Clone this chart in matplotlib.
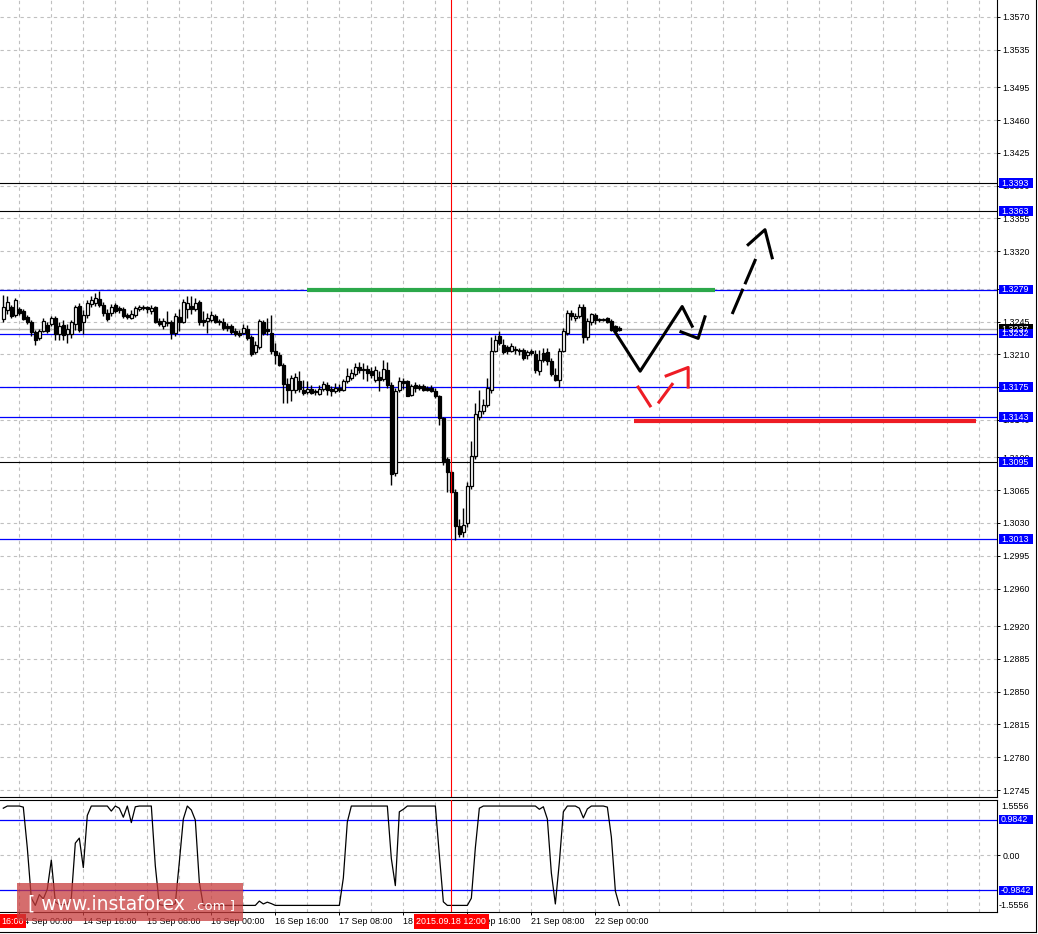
import matplotlib
matplotlib.use("Agg")
import matplotlib.pyplot as plt
from matplotlib.patches import Rectangle
from matplotlib.lines import Line2D
from matplotlib.transforms import blended_transform_factory
import numpy as np

# ---- H1 candles, 13 Sep 20:00 .. 22 Sep 06:00 ----
opens = [
    1.3248, 1.3257, 1.3260, 1.3252, 1.3258, 1.3256, 1.3250, 1.3245, 1.3234, 1.3227,
    1.3235, 1.3241, 1.3242, 1.3249, 1.3232, 1.3241, 1.3232, 1.3232, 1.3242, 1.3262,
    1.3244, 1.3252, 1.3264, 1.3265, 1.3269, 1.3263, 1.3254, 1.3254, 1.3263, 1.3259,
    1.3258, 1.3252, 1.3249, 1.3252, 1.3258, 1.3260, 1.3260, 1.3256, 1.3260, 1.3246,
    1.3240, 1.3245, 1.3245, 1.3233, 1.3250, 1.3245, 1.3258, 1.3262, 1.3258, 1.3266,
    1.3247, 1.3246, 1.3247, 1.3251, 1.3246, 1.3245, 1.3240, 1.3240, 1.3235, 1.3233,
    1.3233, 1.3237, 1.3229, 1.3212, 1.3218, 1.3245, 1.3237, 1.3233, 1.3214, 1.3209,
    1.3199, 1.3178, 1.3172, 1.3172, 1.3181, 1.3172, 1.3170, 1.3173, 1.3171, 1.3168,
    1.3173, 1.3177, 1.3173, 1.3171, 1.3174, 1.3172, 1.3181, 1.3185, 1.3189, 1.3196,
    1.3194, 1.3194, 1.3192, 1.3183, 1.3186, 1.3184, 1.3193, 1.3177, 1.3083, 1.3172,
    1.3181, 1.3181, 1.3167, 1.3177, 1.3176, 1.3176, 1.3174, 1.3174, 1.3171, 1.3165,
    1.3142, 1.3098, 1.3084, 1.3063, 1.3027, 1.3020, 1.3030, 1.3069, 1.3101, 1.3143,
    1.3149, 1.3156, 1.3172, 1.3214, 1.3230, 1.3220, 1.3218, 1.3214, 1.3216, 1.3215,
    1.3215, 1.3209, 1.3214, 1.3210, 1.3192, 1.3211, 1.3212, 1.3203, 1.3188, 1.3183,
    1.3214, 1.3233, 1.3254, 1.3249, 1.3251, 1.3261, 1.3229, 1.3244, 1.3252, 1.3248,
    1.3247, 1.3249, 1.3246, 1.3240, 1.3238,
]
highs = [
    1.3273, 1.3272, 1.3263, 1.3270, 1.3260, 1.3258, 1.3252, 1.3247, 1.3236, 1.3237,
    1.3249, 1.3244, 1.3251, 1.3251, 1.3245, 1.3247, 1.3242, 1.3247, 1.3263, 1.3265,
    1.3257, 1.3268, 1.3272, 1.3275, 1.3278, 1.3266, 1.3258, 1.3264, 1.3265, 1.3262,
    1.3260, 1.3254, 1.3257, 1.3262, 1.3263, 1.3263, 1.3262, 1.3263, 1.3262, 1.3249,
    1.3249, 1.3256, 1.3247, 1.3254, 1.3258, 1.3269, 1.3272, 1.3272, 1.3270, 1.3268,
    1.3256, 1.3254, 1.3256, 1.3253, 1.3248, 1.3249, 1.3243, 1.3242, 1.3238, 1.3236,
    1.3242, 1.3241, 1.3231, 1.3224, 1.3248, 1.3247, 1.3249, 1.3252, 1.3222, 1.3212,
    1.3201, 1.3185, 1.3188, 1.3190, 1.3192, 1.3183, 1.3181, 1.3177, 1.3173, 1.3177,
    1.3182, 1.3180, 1.3176, 1.3179, 1.3178, 1.3184, 1.3195, 1.3194, 1.3201, 1.3202,
    1.3201, 1.3199, 1.3196, 1.3197, 1.3192, 1.3204, 1.3202, 1.3180, 1.3174, 1.3186,
    1.3185, 1.3183, 1.3178, 1.3180, 1.3178, 1.3178, 1.3176, 1.3177, 1.3174, 1.3167,
    1.3143, 1.3100, 1.3087, 1.3066, 1.3034, 1.3046, 1.3074, 1.3117, 1.3158, 1.3172,
    1.3162, 1.3185, 1.3228, 1.3231, 1.3235, 1.3226, 1.3220, 1.3222, 1.3219, 1.3217,
    1.3217, 1.3215, 1.3216, 1.3215, 1.3215, 1.3217, 1.3217, 1.3206, 1.3195, 1.3217,
    1.3238, 1.3257, 1.3257, 1.3254, 1.3264, 1.3264, 1.3249, 1.3254, 1.3254, 1.3249,
    1.3249, 1.3250, 1.3248, 1.3241, 1.3240,
]
lows = [
    1.3245, 1.3253, 1.3249, 1.3250, 1.3252, 1.3247, 1.3242, 1.3230, 1.3220, 1.3225,
    1.3234, 1.3233, 1.3240, 1.3225, 1.3225, 1.3225, 1.3222, 1.3227, 1.3236, 1.3234,
    1.3232, 1.3249, 1.3261, 1.3262, 1.3260, 1.3251, 1.3246, 1.3251, 1.3254, 1.3254,
    1.3249, 1.3248, 1.3248, 1.3250, 1.3256, 1.3257, 1.3254, 1.3253, 1.3243, 1.3240,
    1.3237, 1.3240, 1.3226, 1.3230, 1.3235, 1.3243, 1.3249, 1.3253, 1.3256, 1.3241,
    1.3240, 1.3233, 1.3245, 1.3243, 1.3241, 1.3236, 1.3235, 1.3232, 1.3230, 1.3229,
    1.3232, 1.3225, 1.3208, 1.3210, 1.3216, 1.3231, 1.3231, 1.3210, 1.3200, 1.3197,
    1.3158, 1.3158, 1.3160, 1.3169, 1.3170, 1.3167, 1.3168, 1.3168, 1.3167, 1.3167,
    1.3171, 1.3167, 1.3166, 1.3169, 1.3170, 1.3171, 1.3179, 1.3183, 1.3187, 1.3190,
    1.3184, 1.3181, 1.3185, 1.3180, 1.3171, 1.3182, 1.3174, 1.3071, 1.3080, 1.3170,
    1.3173, 1.3165, 1.3165, 1.3170, 1.3172, 1.3171, 1.3171, 1.3170, 1.3163, 1.3135,
    1.3092, 1.3063, 1.3062, 1.3012, 1.3015, 1.3015, 1.3026, 1.3066, 1.3098, 1.3140,
    1.3146, 1.3154, 1.3169, 1.3212, 1.3220, 1.3210, 1.3210, 1.3212, 1.3210, 1.3209,
    1.3204, 1.3205, 1.3209, 1.3190, 1.3188, 1.3202, 1.3199, 1.3187, 1.3182, 1.3175,
    1.3212, 1.3231, 1.3247, 1.3246, 1.3249, 1.3222, 1.3225, 1.3241, 1.3242, 1.3245,
    1.3246, 1.3243, 1.3235, 1.3234, 1.3235,
]
closes = [
    1.3261, 1.3266, 1.3251, 1.3268, 1.3254, 1.3248, 1.3244, 1.3234, 1.3225, 1.3235,
    1.3246, 1.3235, 1.3249, 1.3232, 1.3240, 1.3231, 1.3237, 1.3244, 1.3261, 1.3236,
    1.3252, 1.3265, 1.3268, 1.3270, 1.3263, 1.3254, 1.3248, 1.3261, 1.3256, 1.3257,
    1.3251, 1.3250, 1.3253, 1.3259, 1.3260, 1.3259, 1.3258, 1.3259, 1.3245, 1.3242,
    1.3246, 1.3243, 1.3233, 1.3251, 1.3244, 1.3266, 1.3265, 1.3258, 1.3265, 1.3244,
    1.3245, 1.3249, 1.3252, 1.3244, 1.3244, 1.3238, 1.3238, 1.3234, 1.3232, 1.3231,
    1.3238, 1.3227, 1.3210, 1.3220, 1.3246, 1.3233, 1.3235, 1.3214, 1.3209, 1.3199,
    1.3178, 1.3172, 1.3185, 1.3186, 1.3173, 1.3169, 1.3173, 1.3169, 1.3170, 1.3173,
    1.3178, 1.3172, 1.3171, 1.3174, 1.3172, 1.3181, 1.3187, 1.3190, 1.3196, 1.3193,
    1.3193, 1.3190, 1.3188, 1.3193, 1.3183, 1.3194, 1.3177, 1.3082, 1.3171, 1.3182,
    1.3179, 1.3166, 1.3176, 1.3174, 1.3174, 1.3172, 1.3172, 1.3171, 1.3165, 1.3142,
    1.3095, 1.3084, 1.3063, 1.3027, 1.3018, 1.3028, 1.3069, 1.3101, 1.3146, 1.3149,
    1.3156, 1.3174, 1.3214, 1.3225, 1.3222, 1.3212, 1.3214, 1.3219, 1.3215, 1.3214,
    1.3206, 1.3213, 1.3211, 1.3193, 1.3204, 1.3204, 1.3203, 1.3189, 1.3183, 1.3214,
    1.3235, 1.3254, 1.3251, 1.3251, 1.3260, 1.3228, 1.3246, 1.3253, 1.3247, 1.3247,
    1.3248, 1.3244, 1.3236, 1.3235, 1.3236,
]

# oscillator in the lower window, one value per bar
osc = [
    1.30, 1.36, 1.36, 1.36, 1.36, 1.33, 0.20, -1.20, -1.40, -1.10,
    -1.22, -0.95, -0.14, -1.30, -1.38, -1.38, -1.36, -1.20, 0.33, 0.47,
    -0.35, 1.10, 1.36, 1.36, 1.36, 1.36, 1.36, 1.22, 1.36, 1.30,
    1.05, 1.36, 0.90, 1.34, 1.36, 1.36, 1.36, 1.36, -0.30, -1.38,
    -1.40, -1.40, -1.40, -1.35, -0.20, 1.00, 1.36, 1.25, 0.97, -0.75,
    -1.40, -1.40, -1.40, -1.40, -1.40, -1.40, -1.40, -1.40, -1.40, -1.40,
    -1.40, -1.40, -1.40, -1.40, -1.28, -1.36, -1.31, -1.35, -1.40, -1.40,
    -1.40, -1.40, -1.40, -1.40, -1.40, -1.40, -1.40, -1.40, -1.40, -1.40,
    -1.40, -1.40, -1.40, -1.40, -1.40, -0.64, 0.92, 1.36, 1.36, 1.36,
    1.36, 1.36, 1.36, 1.36, 1.36, 1.36, 1.36, -0.10, -0.85, 1.20,
    1.27, 1.36, 1.36, 1.36, 1.36, 1.36, 1.36, 1.36, 1.36, 0.00,
    -1.30, -1.40, -1.40, -1.40, -1.40, -1.40, -1.40, -1.20, 0.20, 1.30,
    1.36, 1.36, 1.36, 1.36, 1.36, 1.36, 1.36, 1.36, 1.36, 1.36,
    1.36, 1.36, 1.36, 1.36, 1.27, 1.34, 1.00, -0.50, -1.36, -0.20,
    1.20, 1.36, 1.36, 1.36, 1.30, 1.03, 1.28, 1.36, 1.36, 1.36,
    1.36, 1.33, 0.50, -1.00, -1.40,
]

price_ticks = [1.3570, 1.3535, 1.3495, 1.3460, 1.3425, 1.3390, 1.3355, 1.3320,
               1.3280, 1.3245, 1.3210, 1.3175, 1.3140, 1.3100, 1.3065, 1.3030,
               1.2995, 1.2960, 1.2920, 1.2885, 1.2850, 1.2815, 1.2780, 1.2745]
time_ticks = [4, 20, 36, 52, 68, 84, 100, 116, 132, 148]
time_labels = ["14 Sep 00:00", "14 Sep 16:00", "15 Sep 08:00", "16 Sep 00:00",
               "16 Sep 16:00", "17 Sep 08:00", "18 Sep 00:00", "18 Sep 16:00",
               "21 Sep 08:00", "22 Sep 00:00"]

blue_levels = [1.3279, 1.3232, 1.3175, 1.3143, 1.3013]
black_levels = [1.3393, 1.3363, 1.3095]
bid_price = 1.3237
osc_levels = [0.9842, -0.9842]

# hand-drawn forecast objects (bar index, price)
green_x, green_y = [75.9, 177.9], [1.3279, 1.3279]
red_lvl_x, red_lvl_y = [157.7, 243.2], [1.3139, 1.3139]
fc_a_x, fc_a_y = [152.9, 159.2, 169.7, 172.2], [1.3234, 1.3192, 1.3261, 1.3240]
fc_b_x, fc_b_y = [169.4, 173.7, 175.4], [1.3234, 1.3227, 1.3250]
fc_c_x, fc_c_y = [182.2, 188.4], [1.3253, 1.3315]
fc_d_x, fc_d_y = [186.2, 190.4, 192.2], [1.3327, 1.3343, 1.3313]
alt_a_x, alt_a_y = [158.7, 161.7], [1.3175, 1.3155]
alt_b_x, alt_b_y = [163.9, 167.2], [1.3159, 1.3178]
alt_c_x, alt_c_y = [165.7, 171.2, 171.2], [1.3187, 1.3196, 1.3175]
cross_bar = 112

plt.rcParams["font.family"] = ["Liberation Sans", "DejaVu Sans"]
FS = 6.4
W, H = 1038, 934
BLUE = "#0000ff"
GRID = "#c0c0c0"


def rect(l, t, r, b):
    return [l / W, 1 - b / H, (r - l) / W, (b - t) / H]


fig = plt.figure(figsize=(W / 100, H / 100), dpi=100)
ax = fig.add_axes(rect(0, 0, 997, 797))
ai = fig.add_axes(rect(0, 800, 997, 912), sharex=ax)

ax.set_xlim(-0.825, 248.4)
ax.set_ylim(1.27376, 1.35881)
ai.set_ylim(-1.5833, 1.5278)

for a in (ax, ai):
    a.spines["left"].set_visible(False)
    for s in ("right", "bottom", "top"):
        a.spines[s].set_linewidth(0.8)
    a.yaxis.tick_right()
    a.tick_params(axis="y", direction="out", length=2.2, width=0.7,
                  pad=1.5, labelsize=FS)
    for gx in range(4, 249, 8):
        a.axvline(gx, color=GRID, lw=0.8, ls=(0, (3, 3)), zorder=0.5)
    a.axvline(cross_bar, color="red", lw=0.8, zorder=6)
ax.spines["top"].set_visible(False)

ax.set_yticks(price_ticks)
ax.set_yticklabels([f"{t:.4f}" for t in price_ticks])
for t in price_ticks:
    ax.axhline(t, color=GRID, lw=0.8, ls=(0, (3, 3)), zorder=0.5)
ax.tick_params(axis="x", bottom=False, labelbottom=False)

ai.set_yticks([0])
ai.set_yticklabels(["0.00"])
ai.axhline(0, color=GRID, lw=0.8, ls=(0, (3, 3)), zorder=0.5)
ai.set_xticks(time_ticks)
ai.set_xticklabels(time_labels)
ai.tick_params(axis="x", direction="out", length=2.2, width=0.7, pad=1.5,
               labelsize=FS)
for t in ai.get_xticklabels():
    t.set_horizontalalignment("left")

# levels
for lv in blue_levels:
    ax.axhline(lv, color=BLUE, lw=0.9, zorder=2)
for lv in black_levels:
    ax.axhline(lv, color="black", lw=0.8, zorder=2)
ax.axhline(bid_price, color="#b4b4b4", lw=1.0, zorder=1.8)
for lv in osc_levels:
    ai.axhline(lv, color=BLUE, lw=0.9, zorder=2)

# candles
x = np.arange(len(opens))
o = np.array(opens)
hi = np.array(highs)
lo = np.array(lows)
c = np.array(closes)
ax.vlines(x, lo, hi, color="black", lw=1.0, zorder=3)
bull = c >= o
ax.bar(x, np.abs(c - o), bottom=np.minimum(o, c), width=0.62,
       color=np.where(bull, "white", "black"), edgecolor="black",
       linewidth=0.9, zorder=4)

# oscillator
ai.plot(x, osc, color="black", lw=0.9, zorder=3)

# drawn objects
ax.plot(green_x, green_y, color="#2ca84a", lw=3.0, solid_capstyle="butt", zorder=5)
ax.plot(red_lvl_x, red_lvl_y, color="#ee1c25", lw=3.0, solid_capstyle="butt", zorder=5)
for xs, ys in ((fc_a_x, fc_a_y), (fc_b_x, fc_b_y), (fc_d_x, fc_d_y)):
    ax.plot(xs, ys, color="black", lw=2.2, zorder=5)
ax.plot(fc_c_x, fc_c_y, color="black", lw=2.2, dashes=(9, 1.6), zorder=5)
for xs, ys in ((alt_a_x, alt_a_y), (alt_b_x, alt_b_y), (alt_c_x, alt_c_y)):
    ax.plot(xs, ys, color="#ee1c25", lw=2.2, zorder=5)


def tag(a, y, txt, fc, half_px=4.8):
    pos = a.get_position()
    y0, y1 = a.get_ylim()
    per_px = (y1 - y0) / (pos.height * H)
    xpx = 1 / (pos.width * W)
    tr = blended_transform_factory(a.transAxes, a.transData)
    a.add_patch(Rectangle((1 + 2 * xpx, y - half_px * per_px), 34 * xpx,
                          2 * half_px * per_px, transform=tr, facecolor=fc,
                          edgecolor="none", clip_on=False, zorder=20))
    a.text(1 + 4 * xpx, y - 0.3 * per_px, txt, transform=tr, color="white",
           fontsize=FS, ha="left", va="center", clip_on=False, zorder=21)


tag(ax, bid_price, "1.3237", "black")
for lv in blue_levels + black_levels:
    tag(ax, lv, f"{lv:.4f}", BLUE)
for lv in osc_levels:
    tag(ai, lv, f"{lv:.4f}", BLUE)

trp = blended_transform_factory(ai.transAxes, ai.transData)
ai.text(1 + 4 / 997, 1.36, "1.5556", transform=trp, fontsize=FS,
        ha="left", va="center", clip_on=False)
ai.text(1 + 2 / 997, -1.39, "-1.5556", transform=trp, fontsize=FS,
        ha="left", va="center", clip_on=False)

# crosshair time tag and left time tag
ai.annotate("2015.09.18 12:00", xy=(cross_bar, 0), xycoords=("data", "axes fraction"),
            xytext=(0, -6.6), textcoords="offset points", ha="center", va="center",
            color="white", fontsize=FS, annotation_clip=False, zorder=30,
            bbox=dict(boxstyle="square,pad=0.32", fc="#ff0000", ec="none"))
fig.text(1 / W, 1 - 921 / H, "16:00", color="white", fontsize=FS, ha="left",
         va="center", bbox=dict(boxstyle="square,pad=0.25", fc="#ff0000", ec="none"))

# outer frame lines
fig.add_artist(Line2D([0, 1036 / W], [1 - 931.5 / H] * 2, color="black", lw=0.8))
fig.add_artist(Line2D([1036 / W] * 2, [1 - 931.5 / H, 1], color="black", lw=0.8))

# watermark
fig.add_artist(Rectangle((17 / W, 1 - 921 / H), 226 / W, 38 / H,
                         transform=fig.transFigure, facecolor="#c83c3c",
                         alpha=0.75, edgecolor="none", zorder=40))
fig.text(28 / W, 1 - 909 / H, "[ www.instaforex", color="white", fontsize=13.5,
         family="DejaVu Sans", ha="left", va="baseline", zorder=41)
fig.text(193 / W, 1 - 909 / H, ".com ]", color="white", fontsize=9.5,
         family="DejaVu Sans", ha="left", va="baseline", zorder=41)

fig.savefig("out.png", dpi=100, facecolor="white")
